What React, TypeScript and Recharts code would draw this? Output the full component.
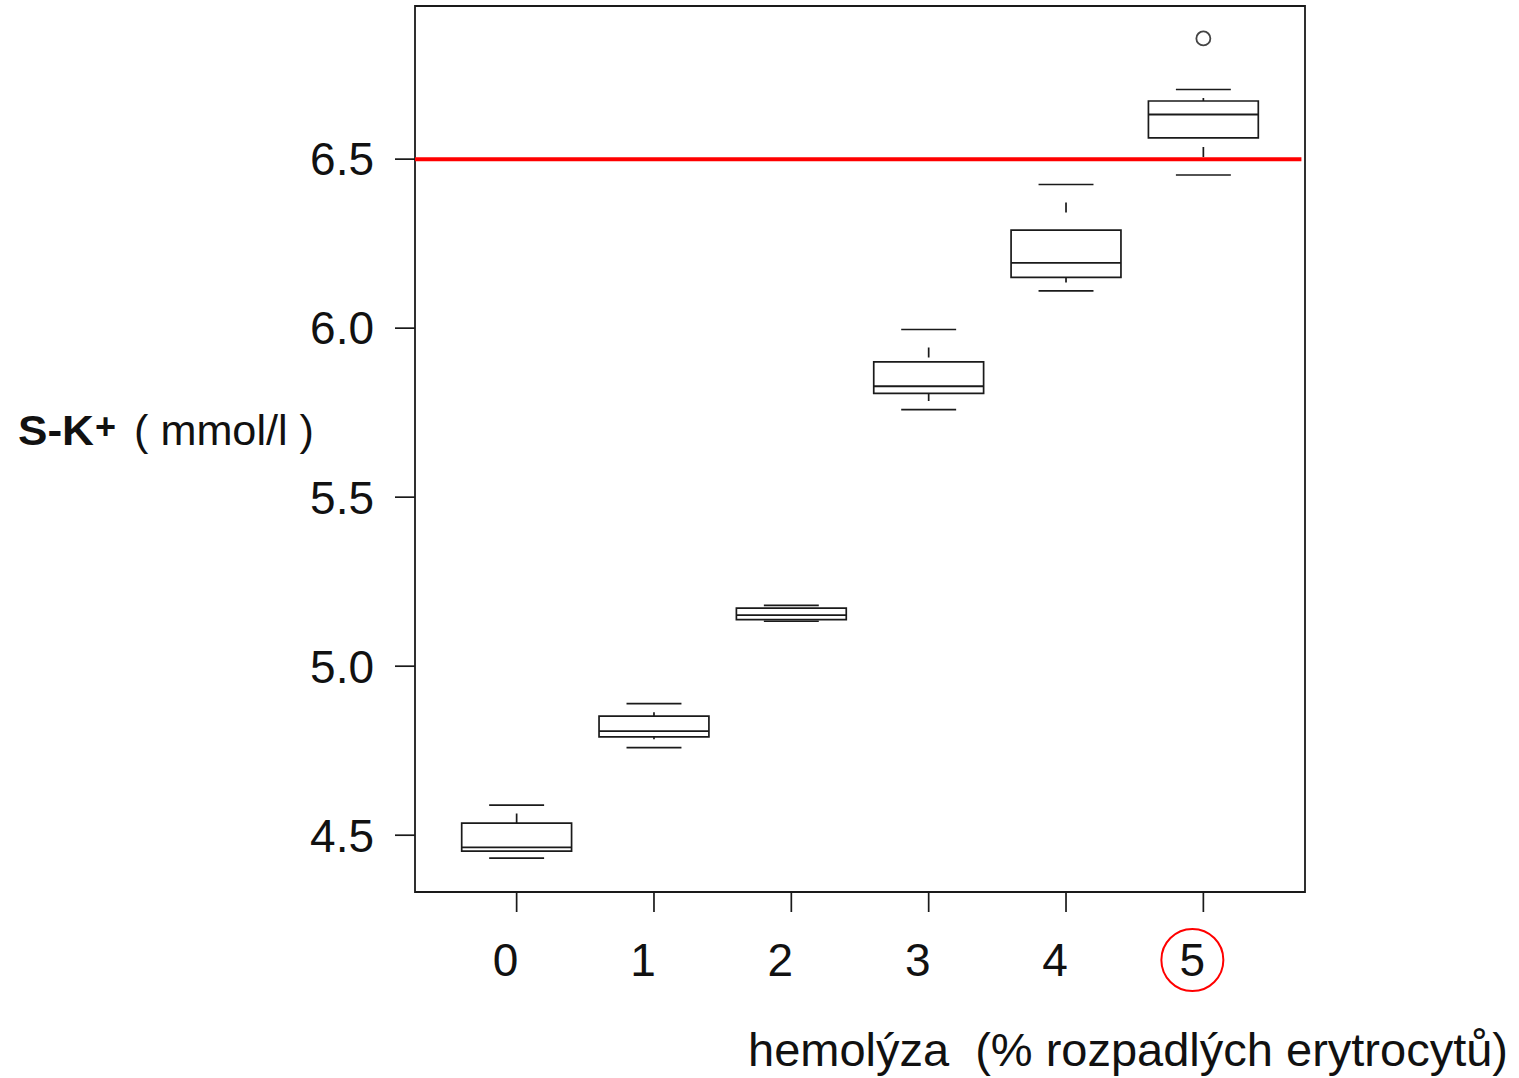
import React from 'react';
import { ComposedChart, XAxis, YAxis, Scatter, ReferenceArea, ReferenceLine, Label } from 'recharts';

// hemolysis level (% of lysed erythrocytes)
const CATEGORIES = [0, 1, 2, 3, 4, 5];
// boxplot statistics of S-K+ (mmol/l)
const WHISKER_LOW = [4.432, 4.759, 5.133, 5.759, 6.11, 6.453];
const Q1 = [4.453, 4.791, 5.138, 5.807, 6.15, 6.563];
const MEDIAN = [4.464, 4.808, 5.151, 5.828, 6.193, 6.632];
const Q3 = [4.536, 4.852, 5.172, 5.9, 6.29, 6.672];
const WHISKER_HIGH = [4.589, 4.889, 5.18, 5.996, 6.425, 6.706];
const OUTLIERS = [{ x: 5, y: 6.857 }];
const Y_TICKS = [4.5, 5.0, 5.5, 6.0, 6.5];
const UPPER_LIMIT = 6.5;
const HIGHLIGHT = 5;

const X_DOMAIN: [number, number] = [-0.74, 5.74];
const Y_DOMAIN: [number, number] = [4.332, 6.953];
const FONT = '"Liberation Sans", Arial, sans-serif';
const INK = '#1a1a1a';
const LW = 1.7;

const BOX_HALF = 0.4;
const CAP_HALF = 0.2;

const XTick = (props: any) => {
  const { x, y, payload } = props;
  const cx = x - 11;
  return (
    <g>
      <text x={cx} y={y} dy="0.71em" textAnchor="middle" fontSize={46} fill="#111" fontFamily={FONT}>
        {payload.value}
      </text>
      {payload.value === HIGHLIGHT && (
        <circle cx={cx} cy={y + 17} r={31} fill="none" stroke="#ff0000" strokeWidth={2} />
      )}
    </g>
  );
};

const YTitle = () => (
  <g fontFamily={FONT} fill="#111">
    <text x={18} y={445} fontSize={42} fontWeight="bold" textLength={76} lengthAdjust="spacingAndGlyphs">
      S-K
    </text>
    <text x={95} y={439} fontSize={36} fontWeight="bold">
      +
    </text>
    <text x={134} y={445} fontSize={42} textLength={180} lengthAdjust="spacingAndGlyphs">
      ( mmol/l )
    </text>
  </g>
);

const XTitle = () => (
  <text x={748} y={1066} fontSize={47} fill="#111" fontFamily={FONT}>
    hemolýza
    <tspan dx={26}>(% rozpadlých erytrocytů)</tspan>
  </text>
);

function whiskerDash(len: number) {
  // R style dashed whisker, only one dash fits on these short segments
  return len > 0.06 ? '0 18 10 1000' : '0 8.5 10 1000';
}

export default function App() {
  return (
    <div style={{ position: 'absolute', left: 0, top: 0, background: '#fff' }}>
      <ComposedChart width={1519} height={1078} margin={{ top: 6, right: 214, bottom: 66, left: 295 }}>
        <XAxis
          type="number"
          dataKey="x"
          domain={X_DOMAIN}
          ticks={CATEGORIES}
          interval={0}
          allowDataOverflow
          axisLine={false}
          tickLine={{ stroke: INK, strokeWidth: LW }}
          tickSize={20}
          tickMargin={31}
          height={120}
          tick={<XTick />}
        >
          <Label content={<XTitle />} />
        </XAxis>
        <YAxis
          type="number"
          dataKey="y"
          domain={Y_DOMAIN}
          ticks={Y_TICKS}
          allowDataOverflow
          axisLine={false}
          tickLine={{ stroke: INK, strokeWidth: LW }}
          tickSize={20}
          tickMargin={21}
          width={120}
          tickFormatter={(v: number) => v.toFixed(1)}
          tick={{ fontSize: 46, fill: '#111', fontFamily: FONT }}
        >
          <Label content={<YTitle />} />
        </YAxis>

        <ReferenceArea
          x1={X_DOMAIN[0]}
          x2={X_DOMAIN[1]}
          y1={Y_DOMAIN[0]}
          y2={Y_DOMAIN[1]}
          fill="none"
          stroke={INK}
          strokeWidth={1.8}
          ifOverflow="visible"
        />

        <ReferenceLine
          segment={[
            { x: X_DOMAIN[0], y: UPPER_LIMIT },
            { x: 5.714, y: UPPER_LIMIT },
          ]}
          stroke="#ff0000"
          strokeWidth={4}
        />

        {CATEGORIES.map((c, i) => (
          <ReferenceArea
            key={`box-${c}`}
            x1={c - BOX_HALF}
            x2={c + BOX_HALF}
            y1={Q1[i]}
            y2={Q3[i]}
            fill="none"
            fillOpacity={0}
            stroke={INK}
            strokeWidth={LW}
          />
        ))}
        {CATEGORIES.map((c, i) => (
          <ReferenceLine
            key={`med-${c}`}
            segment={[
              { x: c - BOX_HALF, y: MEDIAN[i] },
              { x: c + BOX_HALF, y: MEDIAN[i] },
            ]}
            stroke={INK}
            strokeWidth={1.9}
          />
        ))}
        {CATEGORIES.map((c, i) => (
          <ReferenceLine
            key={`wh-hi-${c}`}
            segment={[
              { x: c, y: WHISKER_HIGH[i] },
              { x: c, y: Q3[i] },
            ]}
            stroke={INK}
            strokeWidth={LW}
            strokeDasharray={whiskerDash(WHISKER_HIGH[i] - Q3[i])}
          />
        ))}
        {CATEGORIES.map((c, i) => (
          <ReferenceLine
            key={`wh-lo-${c}`}
            segment={[
              { x: c, y: WHISKER_LOW[i] },
              { x: c, y: Q1[i] },
            ]}
            stroke={INK}
            strokeWidth={LW}
            strokeDasharray={whiskerDash(Q1[i] - WHISKER_LOW[i])}
          />
        ))}
        {CATEGORIES.map((c, i) => (
          <ReferenceLine
            key={`cap-hi-${c}`}
            segment={[
              { x: c - CAP_HALF, y: WHISKER_HIGH[i] },
              { x: c + CAP_HALF, y: WHISKER_HIGH[i] },
            ]}
            stroke={INK}
            strokeWidth={LW}
          />
        ))}
        {CATEGORIES.map((c, i) => (
          <ReferenceLine
            key={`cap-lo-${c}`}
            segment={[
              { x: c - CAP_HALF, y: WHISKER_LOW[i] },
              { x: c + CAP_HALF, y: WHISKER_LOW[i] },
            ]}
            stroke={INK}
            strokeWidth={LW}
          />
        ))}

        <Scatter
          data={OUTLIERS}
          dataKey="y"
          isAnimationActive={false}
          shape={(p: any) => <circle cx={p.cx} cy={p.cy} r={7} fill="none" stroke="#444" strokeWidth={1.8} />}
        />
      </ComposedChart>
    </div>
  );
}
